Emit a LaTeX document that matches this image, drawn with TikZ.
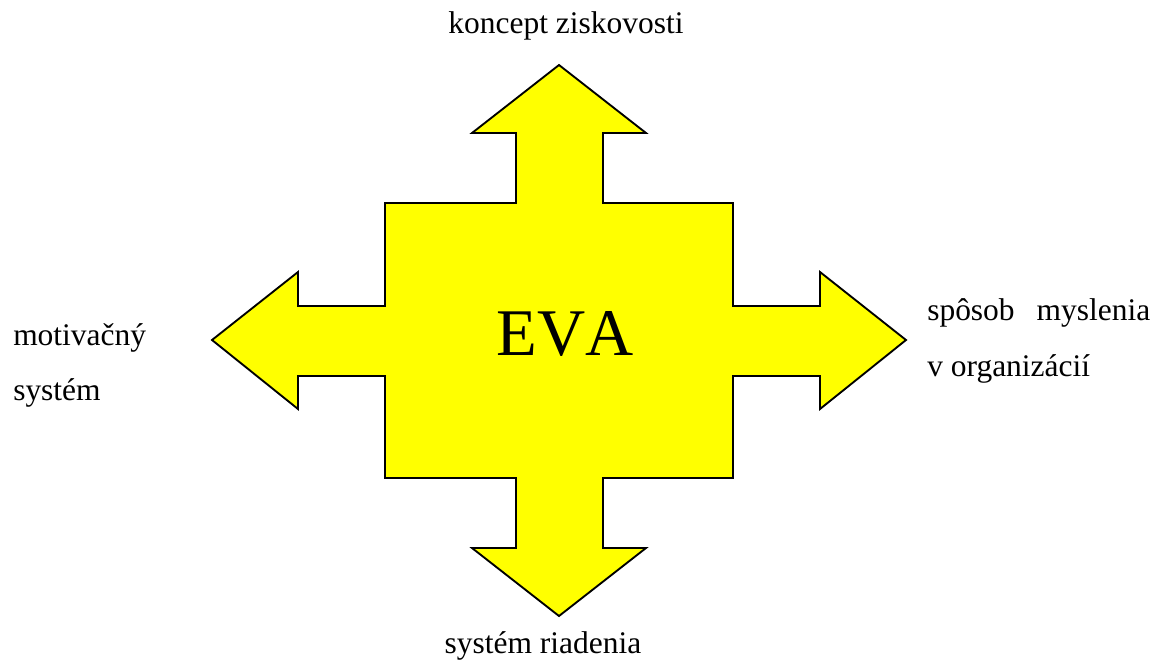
\documentclass[tikz,border=0pt]{standalone}
\usepackage{fontspec}
\setmainfont{Liberation Serif}
\definecolor{arrowfill}{RGB}{255,255,0}
\begin{document}
\begin{tikzpicture}[x=0.75pt,y=-0.75pt,
  label/.style={font=\fontsize{23.6}{28}\selectfont, inner sep=0pt, anchor=base},
  crossarrow/.style={draw=black, line width=1.4pt, fill=arrowfill, line join=miter}]
\useasboundingbox (0,0) rectangle (1169,665);
% four-way arrow
\draw[crossarrow]
  (559,65) -- (646,133) -- (603,133) -- (603,203) -- (733,203) -- (733,306)
  -- (820,306) -- (820,272) -- (906,340) -- (820,409) -- (820,376) -- (733,376)
  -- (733,478) -- (603,478) -- (603,548) -- (646,548) -- (559,616) -- (472,548)
  -- (516,548) -- (516,478) -- (385,478) -- (385,376) -- (298,376) -- (298,409)
  -- (212,340) -- (298,272) -- (298,306) -- (385,306) -- (385,203) -- (516,203)
  -- (516,133) -- (472,133) -- cycle;
\node[inner sep=0pt, anchor=base, font=\fontsize{50}{60}\selectfont\addfontfeature{Kerning=Off}] (eva) at (565,355) {EVA};
\node[label] (top) at (566,33) {koncept ziskovosti};
\node[label] (bottom) at (543,653) {systém riadenia};
\node[label, anchor=base west] (left1) at (13,345) {motivačný};
\node[label, anchor=base west] (left2) at (13,400) {systém};
\node[label, anchor=base west] (right1) at (927,320) {\makebox[167.25pt][s]{spôsob\hfill myslenia}};
\node[label, anchor=base west] (right2) at (927,376) {v organizácií};
\end{tikzpicture}
\end{document}
